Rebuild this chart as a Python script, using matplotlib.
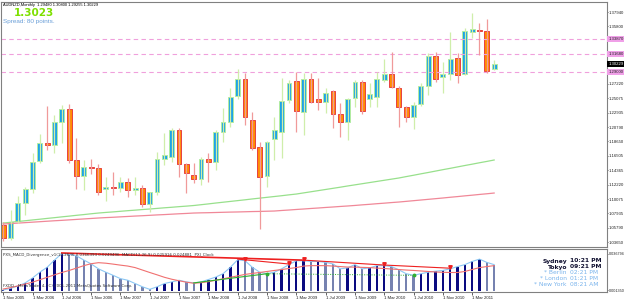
import numpy as np
import matplotlib
matplotlib.use("Agg")
import matplotlib.pyplot as plt

# AUDNZD monthly, Nov 2005 .. Jun 2011
opens = [1.0620, 1.0427, 1.0680, 1.0948, 1.1157, 1.1574, 1.1842, 1.1813, 1.2155, 1.2349,
         1.1589, 1.1351, 1.1485, 1.1470, 1.1157, 1.1187, 1.1172, 1.1261, 1.1142, 1.1172,
         1.0933, 1.1112, 1.1604, 1.1634, 1.2036, 1.1529, 1.1366, 1.1306, 1.1604, 1.1559,
         1.2006, 1.2155, 1.2543, 1.2796, 1.2185, 1.1783, 1.1351, 1.1902, 1.2006, 1.2483,
         1.2766, 1.2304, 1.2796, 1.2498, 1.2453, 1.2617, 1.2274, 1.2155, 1.2513, 1.2751,
         1.2498, 1.2528, 1.2781, 1.2870, 1.2662, 1.2379, 1.2230, 1.2423, 1.2692, 1.3139,
         1.2826, 1.2870, 1.3109, 1.2870, 1.3496, 1.3526, 1.3511, 1.2948]
highs = [1.0665, 1.0844, 1.1053, 1.1187, 1.1693, 1.1977, 1.2394, 1.2260, 1.2409, 1.2423,
         1.1917, 1.1589, 1.1604, 1.1529, 1.1336, 1.1410, 1.1336, 1.1321, 1.1336, 1.1217,
         1.1112, 1.1708, 1.1991, 1.2066, 1.2066, 1.1544, 1.1544, 1.1634, 1.1693, 1.2036,
         1.2364, 1.2662, 1.2945, 1.2885, 1.2304, 1.1857, 1.1872, 1.2230, 1.2811, 1.2781,
         1.2900, 1.2885, 1.2885, 1.2811, 1.2662, 1.2632, 1.2438, 1.2513, 1.2781, 1.2781,
         1.2736, 1.2900, 1.3094, 1.3198, 1.2692, 1.2394, 1.2453, 1.2736, 1.3183, 1.3198,
         1.3049, 1.3496, 1.3183, 1.3556, 1.3779, 1.3630, 1.3690, 1.3080]
lows = [1.0382, 1.0397, 1.0650, 1.0770, 1.1097, 1.1544, 1.1738, 1.1693, 1.1842, 1.1544,
        1.1157, 1.1142, 1.1381, 1.1068, 1.0978, 1.1068, 1.1112, 1.1038, 1.1068, 1.0889,
        1.0814, 1.1068, 1.1515, 1.1559, 1.1336, 1.1097, 1.1246, 1.1217, 1.1261, 1.1440,
        1.1857, 1.2081, 1.2498, 1.2111, 1.1738, 1.0561, 1.1187, 1.1589, 1.1619, 1.2438,
        1.2006, 1.1962, 1.2438, 1.2334, 1.2289, 1.2066, 1.1932, 1.1887, 1.2379, 1.2274,
        1.2379, 1.2379, 1.2751, 1.2662, 1.2081, 1.2155, 1.2051, 1.2394, 1.2558, 1.2751,
        1.2587, 1.2781, 1.2736, 1.2856, 1.3407, 1.3153, 1.2885, 1.29255]
closes = [1.0427, 1.0665, 1.0948, 1.1157, 1.1559, 1.1842, 1.1813, 1.2155, 1.2349, 1.1589,
          1.1351, 1.1485, 1.1470, 1.1112, 1.1187, 1.1172, 1.1261, 1.1142, 1.1172, 1.0933,
          1.1112, 1.1604, 1.1663, 1.2036, 1.1529, 1.1396, 1.1306, 1.1604, 1.1559, 1.2006,
          1.2155, 1.2528, 1.2796, 1.2230, 1.1768, 1.1336, 1.1857, 1.2036, 1.2468, 1.2736,
          1.2319, 1.2796, 1.2453, 1.2453, 1.2587, 1.2274, 1.2155, 1.2498, 1.2751, 1.2319,
          1.2572, 1.2796, 1.2870, 1.2677, 1.2379, 1.2230, 1.2409, 1.2692, 1.3139, 1.2796,
          1.2870, 1.3094, 1.2856, 1.3511, 1.3541, 1.3511, 1.2915, 1.30229]

# moving averages (green = slow, red = slower)
ma_green = [1.0650, 1.0661, 1.0673, 1.0684, 1.0696, 1.0707, 1.0719, 1.0730, 1.0742, 1.0753,
            1.0765, 1.0776, 1.0788, 1.0799, 1.0808, 1.0816, 1.0825, 1.0834, 1.0842, 1.0851,
            1.0859, 1.0868, 1.0877, 1.0885, 1.0894, 1.0902, 1.0911, 1.0923, 1.0935, 1.0948,
            1.0960, 1.0972, 1.0984, 1.0996, 1.1009, 1.1021, 1.1033, 1.1045, 1.1057, 1.1070,
            1.1082, 1.1099, 1.1116, 1.1133, 1.1150, 1.1167, 1.1184, 1.1202, 1.1219, 1.1236,
            1.1253, 1.1270, 1.1287, 1.1304, 1.1321, 1.1342, 1.1362, 1.1383, 1.1403, 1.1424,
            1.1445, 1.1465, 1.1486, 1.1507, 1.1527, 1.1548, 1.1568, 1.1589]
ma_red = [1.0635, 1.0642, 1.0649, 1.0656, 1.0663, 1.0670, 1.0677, 1.0684, 1.0690, 1.0697,
          1.0704, 1.0711, 1.0718, 1.0725, 1.0731, 1.0736, 1.0742, 1.0748, 1.0754, 1.0759,
          1.0765, 1.0771, 1.0776, 1.0782, 1.0788, 1.0793, 1.0799, 1.0802, 1.0804, 1.0807,
          1.0810, 1.0813, 1.0815, 1.0818, 1.0821, 1.0823, 1.0826, 1.0829, 1.0837, 1.0844,
          1.0852, 1.0859, 1.0867, 1.0874, 1.0882, 1.0889, 1.0897, 1.0904, 1.0912, 1.0921,
          1.0929, 1.0938, 1.0946, 1.0955, 1.0963, 1.0973, 1.0983, 1.0993, 1.1003, 1.1013,
          1.1023, 1.1034, 1.1044, 1.1055, 1.1065, 1.1076, 1.1086, 1.1097]

hlines = [1.3387, 1.3168, 1.2900]
price_ticks = [1.37940, 1.35800, 1.27220, 1.25075, 1.22935, 1.20790, 1.18650, 1.16505,
               1.14365, 1.12220, 1.10075, 1.07935, 1.05790, 1.03650]

# MACD panel (x 1e-3)
macd = [1.4, 3.1, 5.3, 8.4, 13.2, 18.9, 23.7, 30.8, 37.1, 36.5,
        34.9, 30.8, 27.0, 22.2, 18.9, 15.8, 12.6, 11.0, 7.8, 4.6,
        2.1, 4.6, 7.8, 9.4, 11.0, 9.4, 8.4, 9.4, 11.7, 14.1,
        17.4, 23.7, 31.1, 30.1, 23.7, 18.9, 17.4, 18.9, 22.2, 26.3,
        30.1, 30.1, 29.4, 29.4, 28.5, 27.0, 22.2, 23.1, 26.3, 22.2,
        23.1, 25.3, 25.3, 24.4, 21.2, 17.4, 15.8, 17.4, 18.9, 19.9,
        20.6, 22.2, 24.4, 26.3, 29.4, 31.7, 28.5, 26.3]
signal = [2.4, 3.8, 5.5, 7.3, 9.1, 11.5, 13.9, 16.3, 18.6, 20.6,
          22.9, 25.3, 27.2, 28.2, 27.7, 26.8, 25.8, 24.9, 23.4, 21.0,
          18.6, 16.3, 13.9, 12.0, 10.5, 9.1, 8.1, 8.6, 9.6, 11.0,
          12.4, 13.9, 15.3, 16.7, 17.7, 18.6, 19.6, 20.6, 21.5, 22.5,
          23.4, 24.9, 25.3, 25.3, 25.3, 24.9, 24.4, 23.9, 23.9, 23.6,
          23.4, 22.9, 22.5, 22.0, 21.5, 21.0, 20.6, 20.1, 19.6, 19.1,
          18.8, 18.6, 18.6, 19.6, 21.5, 23.4, 24.4, 25.3]
bear_div = [(8, 41), (32, 39), (41, 52), (52, 61)]
bear_arrows = [33, 39, 41, 52, 61]
bull_div_solid = (26, 36)
bull_div_dotted = (36, 56)

date_labels = ["1 Nov 2005", "1 Mar 2006", "1 Jul 2006", "1 Nov 2006", "1 Mar 2007",
               "1 Jul 2007", "1 Nov 2007", "1 Mar 2008", "1 Jul 2008", "1 Nov 2008",
               "1 Mar 2009", "1 Jul 2009", "1 Nov 2009", "1 Mar 2010", "1 Jul 2010",
               "1 Nov 2010", "1 Mar 2011"]

clock_cities = ["Sydney", "Tokyo", "* Berlin", "* London", "* New York"]
clock_times = ["10:21 PM", "09:21 PM", "02:21 PM", "01:21 PM", "08:21 AM"]

o = np.array(opens)
h = np.array(highs)
l = np.array(lows)
c = np.array(closes)
x = np.arange(len(o))
up = c >= o

NARROW = "Liberation Sans"
W, H = 625.0, 300.0
fig = plt.figure(figsize=(6.25, 3.0), dpi=100)
fig.patch.set_facecolor("white")
ax = fig.add_axes([1 / W, 1 - 247 / H, 606 / W, 245 / H])
ax2 = fig.add_axes([1 / W, 1 - 292 / H, 606 / W, 43 / H])

frame = "#808080"
axis_fs = 3.1
for a in (ax, ax2):
    for s in a.spines.values():
        s.set_color(frame)
        s.set_linewidth(0.8)
    a.set_xlim(-0.3, 82.4)
    a.yaxis.tick_right()
    a.tick_params(axis="y", labelsize=axis_fs, length=1, width=0.5, pad=0.5, colors="#202020")

# ---- price panel
ax.set_ylim(1.0293, 1.3943)
for lvl in hlines:
    ax.axhline(lvl, color="#f0a0dc", lw=0.8, ls=(0, (4, 3)))
ax.plot(x, ma_green, color="#98e08c", lw=0.9)
ax.plot(x, ma_red, color="#f08898", lw=0.9)

ax.vlines(x[up], l[up], h[up], color="#cfeeaa", lw=0.9)
ax.vlines(x[~up], l[~up], h[~up], color="#f09a9a", lw=0.9)
bottom = np.minimum(o, c)
height = np.maximum(np.abs(c - o), 0.0006)
ax.bar(x[up], height[up], bottom=bottom[up], width=0.66, color="#1ea3e6",
       edgecolor="#b4eca0", linewidth=0.7)
ax.bar(x[~up], height[~up], bottom=bottom[~up], width=0.66, color="#ff8c00",
       edgecolor="#e84040", linewidth=0.7)

ax.set_xticks([])
ax.set_yticks(price_ticks)
ax.set_yticklabels(["%.5f" % v for v in price_ticks], fontfamily=NARROW)

# right-axis price boxes
for lvl in hlines:
    ax.text(1.002, lvl, "%.5f" % lvl, transform=ax.get_yaxis_transform(), fontsize=axis_fs,
            fontfamily=NARROW, va="center", ha="left", color="#202020",
            bbox=dict(boxstyle="square,pad=0.2", fc="#f0a0e8", ec="none"))
ax.text(1.002, c[-1], "%.5f" % c[-1], transform=ax.get_yaxis_transform(), fontsize=axis_fs,
        fontfamily=NARROW, va="center", ha="left", color="white",
        bbox=dict(boxstyle="square,pad=0.2", fc="black", ec="none"))

fig.text(3 / W, 1 - 5 / H, "AUDNZD,Monthly  1.29480 1.30800 1.29255 1.30229",
         fontsize=2.9, fontfamily=NARROW, va="center", ha="left", color="black")
fig.text(14 / W, 1 - 13 / H, "1.3023", fontsize=7.5, fontweight="bold",
         va="center", ha="left", color="#7ee000")
fig.text(3 / W, 1 - 21 / H, "Spread: 80 points.", fontsize=4.6, fontfamily=NARROW,
         va="center", ha="left", color="#6a9fd8")

# ---- MACD panel
m = np.array(macd) / 1000.0
sg = np.array(signal) / 1000.0
ax2.set_ylim(-0.0005, 0.0416)
rising = np.r_[True, np.diff(m) >= 0]
ax2.bar(x[rising], m[rising], width=0.32, color="#0a0a80", linewidth=0)
ax2.bar(x[~rising], m[~rising], width=0.32, color="#7682b0", linewidth=0)
ax2.plot(x, m, color="#8cc8f4", lw=0.8)
ax2.plot(x, sg, color="#f07070", lw=0.8)
for a0, a1 in bear_div:
    ax2.plot([a0, a1], [m[a0] + 0.0006, m[a1] + 0.0006], color="#ee2020",
             lw=1.2 if a0 == 8 else 0.8)
ax2.plot(bear_arrows, m[bear_arrows] + 0.0018, ls="none", marker="v", ms=2.5,
         color="#ee2020")
s0, s1 = bull_div_solid
ax2.plot([s0, s1], [m[s0], m[s1]], color="#30b030", lw=0.8)
d0, d1 = bull_div_dotted
ax2.plot([d0, d1], [m[d0], m[d1]], color="#30b030", lw=0.7, ls=(0, (1, 1.5)))
ax2.plot([s1, d1], [m[s1], m[d1]], ls="none", marker="o", ms=1.8, color="#30b030")

ax2.set_yticks([0.036794, 0.00135])
ax2.set_yticklabels(["0.036794", "0.001350"], fontfamily=NARROW, fontsize=2.7)
ax2.set_xticks(x[::4])
ax2.set_xticklabels(date_labels, fontfamily=NARROW)
ax2.tick_params(axis="x", labelsize=3.1, length=2, width=0.5, pad=0.8, colors="#202020")
for t in ax2.get_xticklabels():
    t.set_ha("left")

ax2.text(0.004, 0.86, "PXS_MACD_Divergence_v1(12,26,9) 0.0366393 0.0249496  MACD(12,26,9) "
         "0.025916 0.024881  PXI_Clock", transform=ax2.transAxes, fontsize=2.9,
         va="center", ha="left", color="#303030")
ax2.text(0.004, 0.14, "FXDD - MetaTrader 4, (C) 2001-2011 MetaQuotes Software Corp.",
         transform=ax2.transAxes, fontsize=2.9, va="center", ha="left", color="#303030")

rows = [261, 267, 273, 279, 285]
for i, (city, tm) in enumerate(zip(clock_cities, clock_times)):
    col = "#101030" if i < 2 else "#7ab4ec"
    fw = "bold" if i < 2 else "normal"
    fig.text(567 / W, 1 - rows[i] / H, city, fontsize=4.3, fontweight=fw,
             va="center", ha="right", color=col)
    fig.text(570 / W, 1 - rows[i] / H, tm, fontsize=4.3, fontweight=fw,
             va="center", ha="left", color=col)

fig.savefig("out.png", dpi=100)
